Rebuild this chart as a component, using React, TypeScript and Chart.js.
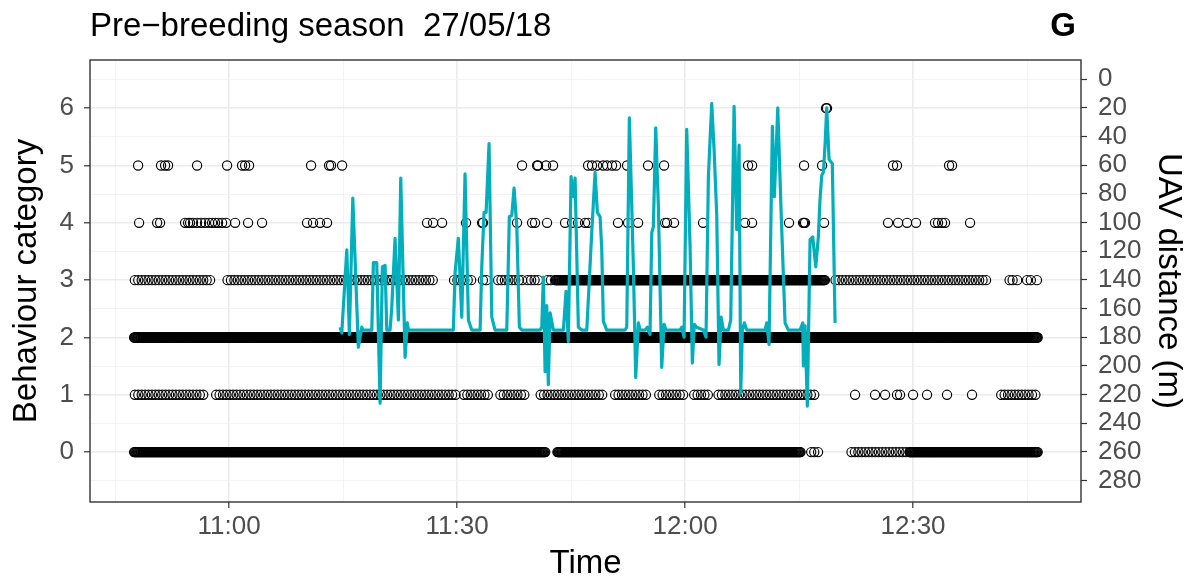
import React, { useEffect, useRef } from "react";
import { Chart, registerables } from "chart.js";

Chart.register(...registerables);

// ---------- text ----------
const TITLE = "Pre\u2212breeding season  27/05/18";
const PANEL_TAG = "G";
const X_TITLE = "Time";
const Y_TITLE = "Behaviour category";
const Y2_TITLE = "UAV distance (m)";

// ---------- axes (time in minutes after midnight) ----------
const X_MIN = 641.7;
const X_MAX = 772.1;
const X_TICKS = [645, 660, 675, 690, 705, 720, 735, 750, 765];
const X_LABELLED = [660, 690, 720, 750];
const Y_MIN = -0.87;
const Y_MAX = 6.84;
const Y_TICKS = [-0.5, 0, 0.5, 1, 1.5, 2, 2.5, 3, 3.5, 4, 4.5, 5, 5.5, 6, 6.5];
const Y2_MIN = -13.3;
const Y2_MAX = 294.9;
const Y2_TICKS = [0, 20, 40, 60, 80, 100, 120, 140, 160, 180, 200, 220, 240, 260, 280];

// ---------- UAV distance track ----------
const uavTime = [
  674.61, 674.83, 675.49, 675.83, 676.28, 677.01, 677.46, 677.63, 678.78, 678.99,
  679.43, 679.87, 680.17, 680.53, 680.75, 681.18, 681.41, 681.84, 682.28, 682.59,
  683.16, 683.46, 683.59, 689.51, 689.74, 690.17, 690.62, 691.05, 691.49, 691.93,
  693.03, 693.25, 693.55, 693.82, 694.21, 694.57, 695.0, 696.54, 696.88, 697.2,
  697.5, 697.86, 698.2, 698.51, 700.92, 701.14, 701.36, 701.58, 701.8, 702.01,
  702.24, 702.67, 703.99, 704.34, 704.64, 705.0, 705.3, 705.53, 705.96, 706.41,
  707.07, 707.72, 708.16, 708.46, 708.82, 709.04, 709.25, 709.7, 712.11, 712.33,
  712.67, 712.99, 713.2, 713.51, 713.86, 714.08, 714.74, 715.04, 715.39, 715.62,
  715.83, 716.14, 716.49, 716.93, 717.24, 717.5, 719.34, 719.57, 719.87, 720.22,
  720.66, 720.96, 721.22, 721.54, 722.41, 722.76, 723.07, 723.51, 723.82, 724.17,
  724.47, 724.74, 725.04, 725.7, 726.01, 726.45, 726.8, 727.11, 727.33, 727.54,
  727.8, 728.12, 730.53, 730.75, 731.05, 731.49, 731.75, 732.2, 732.63, 733.16,
  733.59, 735.13, 735.49, 735.57, 735.79, 736.09, 736.45, 736.8, 737.2, 737.54,
  737.76, 737.99, 738.2, 738.42, 738.64, 738.95, 739.38, 739.74,
];
const uavDistance = [
  173, 177, 119, 178, 83, 187, 173, 175, 175, 128,
  128, 226, 131, 130, 175, 175, 159, 111, 168, 69,
  194, 170, 175, 175, 135, 111, 166, 66, 168, 175,
  175, 131, 93, 93, 45, 166, 175, 175, 96, 95,
  76, 103, 173, 175, 175, 173, 138, 204, 158, 213,
  163, 175, 175, 148, 183, 68, 82, 69, 173, 175,
  175, 107, 65, 93, 96, 119, 169, 175, 175, 173,
  27, 89, 131, 208, 170, 175, 175, 173, 178, 107,
  103, 34, 89, 201, 171, 175, 175, 173, 180, 35,
  117, 198, 171, 173, 175, 180, 68, 17, 49, 95,
  199, 166, 175, 175, 168, 19, 105, 46, 219, 175,
  170, 175, 175, 170, 185, 33, 82, 20, 91, 170,
  175, 175, 170, 200, 172, 228, 112, 110, 131, 110,
  84, 67, 65, 46, 20, 56, 59, 170,
];

// ---------- behaviour observations ----------
// bouts of continuous scoring [start, end] (minutes after midnight)
const DENSE_INTERVAL = 0.1; // one record every 6 s inside a continuous bout
const LOOSE_INTERVAL = 0.45; // records in intermittent bouts
const cat0Dense = [[647.5, 701.6], [703.2, 735.2], [749.6, 766.4]];
const cat0Loose = [[741.9, 749.6]];
const cat0Single = [736.6, 737.0, 737.5];
const cat1Dense: number[][] = [];
const cat1Loose = [
  [647.6, 657.0], [658.3, 690.0], [690.9, 694.2], [695.7, 699.0], [701.0, 709.3],
  [710.8, 715.0], [716.6, 720.1], [721.2, 723.0], [724.4, 737.4], [761.6, 766.4],
];
const cat1Single = [742.37, 745.0, 746.32, 747.89, 748.29, 750.0, 751.84, 754.47, 757.76];
const cat2Dense = [[647.5, 766.4]];
const cat2Loose: number[][] = [];
const cat2Single: number[] = [];
const cat3Dense = [[702.9, 738.4]];
const cat3Loose = [
  [647.6, 657.9], [659.8, 686.9], [689.6, 692.0], [693.4, 694.2], [695.4, 698.6],
  [699.3, 701.0], [701.9, 702.4], [739.8, 759.6],
];
const cat3Single = [762.7, 763.1, 763.7, 765.0, 765.5, 766.3];
const cat4Single = [
  648.16, 650.53, 650.92, 654.21, 654.61, 654.87, 655.26, 655.79, 656.32, 656.84,
  657.37, 657.76, 658.16, 658.55, 659.08, 659.61, 660.79, 662.5, 664.34, 670.26,
  671.05, 671.97, 672.89, 686.05, 686.84, 688.03, 691.18, 693.29, 693.42, 697.89,
  699.87, 700.26, 701.84, 704.21, 705.13, 705.92, 706.84, 707.24, 711.18, 712.5,
  713.82, 717.37, 717.63, 718.55, 722.37, 727.89, 728.82, 733.68, 735.53, 735.66,
  735.79, 738.29, 746.71, 748.03, 749.21, 750.39, 752.89, 753.29, 753.82, 754.21,
  757.5,
];
const cat5Single = [
  648.03, 651.05, 651.58, 651.97, 655.79, 659.74, 661.71, 662.11, 662.63, 670.79,
  673.16, 673.42, 674.87, 698.55, 700.53, 700.66, 701.71, 702.63, 707.24, 707.76,
  708.42, 709.21, 709.74, 710.39, 710.92, 712.37, 715.13, 717.24, 728.29, 728.82,
  735.66, 738.03, 747.37, 747.89, 754.74, 755.13,
];
const cat6Single = [738.55, 738.68];

// ---------- colours ----------
const LINE_COLOR = "#00AFBB";
const POINT_COLOR = "#000000";
const GRID_MAJOR = "#EBEBEB";
const GRID_MINOR = "#F2F2F2";
const AXIS_DARK = "#333333";
const TICK_TEXT = "#4D4D4D";
const FONT = "'Liberation Sans', Arial, Helvetica, sans-serif";

function boutPoints(bouts: number[][], step: number, cat: number) {
  const out: { x: number; y: number }[] = [];
  for (const [a, b] of bouts) {
    for (let t = a; t <= b + 1e-9; t += step) out.push({ x: t, y: cat });
  }
  return out;
}
function singlePoints(times: number[], cat: number) {
  return times.map((t) => ({ x: t, y: cat }));
}

function buildBehaviour() {
  const rows = [
    { cat: 0, d: cat0Dense, l: cat0Loose, s: cat0Single },
    { cat: 1, d: cat1Dense, l: cat1Loose, s: cat1Single },
    { cat: 2, d: cat2Dense, l: cat2Loose, s: cat2Single },
    { cat: 3, d: cat3Dense, l: cat3Loose, s: cat3Single },
    { cat: 4, d: [], l: [], s: cat4Single },
    { cat: 5, d: [], l: [], s: cat5Single },
    { cat: 6, d: [], l: [], s: cat6Single },
  ];
  const pts: { x: number; y: number }[] = [];
  for (const r of rows) {
    pts.push(...boutPoints(r.d, DENSE_INTERVAL, r.cat));
    pts.push(...boutPoints(r.l, LOOSE_INTERVAL, r.cat));
    pts.push(...singlePoints(r.s, r.cat));
  }
  return pts;
}

function fmtTime(v: number) {
  const h = Math.floor(v / 60);
  const m = Math.round(v - h * 60);
  return `${h}:${m.toString().padStart(2, "0")}`;
}

const frameAndTitlePlugin = {
  id: "frameAndTitle",
  afterDraw(chart: any) {
    const { ctx, chartArea } = chart;
    ctx.save();
    ctx.strokeStyle = AXIS_DARK;
    ctx.lineWidth = 1.4;
    ctx.strokeRect(
      chartArea.left,
      chartArea.top,
      chartArea.right - chartArea.left,
      chartArea.bottom - chartArea.top
    );
    ctx.fillStyle = "#000000";
    ctx.textBaseline = "alphabetic";
    ctx.font = `33px ${FONT}`;
    ctx.textAlign = "left";
    ctx.fillText(TITLE, chartArea.left, 36);
    ctx.font = `bold 33px ${FONT}`;
    ctx.textAlign = "right";
    ctx.fillText(PANEL_TAG, 1076, 36);
    ctx.restore();
  },
};

export default function App() {
  const canvasRef = useRef<HTMLCanvasElement | null>(null);

  useEffect(() => {
    if (!canvasRef.current) return;
    const behaviour = buildBehaviour();
    const uav = uavTime.map((t, i) => ({ x: t, y: uavDistance[i] }));

    const isMajorX = (v: number) => X_LABELLED.includes(v);
    const isMajorY = (v: number) => Number.isInteger(v);

    const chart = new Chart(canvasRef.current, {
      type: "scatter",
      data: {
        datasets: [
          {
            type: "line",
            label: "UAV distance",
            data: uav,
            yAxisID: "y2",
            borderColor: LINE_COLOR,
            backgroundColor: LINE_COLOR,
            borderWidth: 3.2,
            borderJoinStyle: "round",
            pointRadius: 0,
            tension: 0,
            showLine: true,
            fill: false,
            order: 0,
          } as any,
          {
            type: "scatter",
            label: "Behaviour",
            data: behaviour,
            yAxisID: "y",
            pointRadius: 4.6,
            pointBorderWidth: 1.15,
            borderColor: POINT_COLOR,
            backgroundColor: "rgba(0,0,0,0)",
            pointHoverRadius: 4.6,
            order: 1,
          } as any,
        ],
      },
      options: {
        animation: false,
        responsive: true,
        maintainAspectRatio: false,
        devicePixelRatio: 1,
        events: [],
        layout: { padding: { top: 60, left: 0, right: 0, bottom: 0 } },
        plugins: {
          legend: { display: false },
          tooltip: { enabled: false },
          title: { display: false },
        },
        scales: {
          x: {
            type: "linear",
            position: "bottom",
            min: X_MIN,
            max: X_MAX,
            afterBuildTicks: (s: any) => {
              s.ticks = X_TICKS.map((v) => ({ value: v }));
            },
            afterFit: (s: any) => {
              s.height = 84;
            },
            border: { display: false },
            grid: {
              color: (c: any) => (c.tick && isMajorX(c.tick.value) ? GRID_MAJOR : GRID_MINOR),
              lineWidth: (c: any) => (c.tick && isMajorX(c.tick.value) ? 1.6 : 0.9),
              tickColor: (c: any) =>
                c.tick && isMajorX(c.tick.value) ? AXIS_DARK : "rgba(0,0,0,0)",
              tickWidth: 1.2,
              tickLength: 6,
              drawTicks: true,
            },
            ticks: {
              autoSkip: false,
              maxRotation: 0,
              padding: 3,
              color: TICK_TEXT,
              font: { family: FONT, size: 26 },
              callback: (v: any) => (isMajorX(Number(v)) ? fmtTime(Number(v)) : ""),
            },
            title: {
              display: true,
              text: X_TITLE,
              color: "#000000",
              font: { family: FONT, size: 33 },
              padding: { top: 0, bottom: 2 },
            },
          },
          y: {
            type: "linear",
            position: "left",
            min: Y_MIN,
            max: Y_MAX,
            afterBuildTicks: (s: any) => {
              s.ticks = Y_TICKS.map((v) => ({ value: v }));
            },
            afterFit: (s: any) => {
              s.width = 90;
            },
            border: { display: false },
            grid: {
              color: (c: any) => (c.tick && isMajorY(c.tick.value) ? GRID_MAJOR : GRID_MINOR),
              lineWidth: (c: any) => (c.tick && isMajorY(c.tick.value) ? 1.6 : 0.9),
              tickColor: (c: any) =>
                c.tick && isMajorY(c.tick.value) ? AXIS_DARK : "rgba(0,0,0,0)",
              tickWidth: 1.2,
              tickLength: 6,
              drawTicks: true,
            },
            ticks: {
              autoSkip: false,
              padding: 10,
              color: TICK_TEXT,
              font: { family: FONT, size: 26 },
              callback: (v: any) => (isMajorY(Number(v)) ? String(v) : ""),
            },
            title: {
              display: true,
              text: Y_TITLE,
              color: "#000000",
              font: { family: FONT, size: 33 },
              padding: { top: 7, bottom: 0 },
            },
          },
          y2: {
            type: "linear",
            position: "right",
            reverse: true,
            min: Y2_MIN,
            max: Y2_MAX,
            afterBuildTicks: (s: any) => {
              s.ticks = Y2_TICKS.map((v) => ({ value: v }));
            },
            afterFit: (s: any) => {
              s.width = 111;
            },
            border: { display: false },
            grid: {
              drawOnChartArea: false,
              tickColor: AXIS_DARK,
              tickWidth: 1.2,
              tickLength: 6,
              drawTicks: true,
            },
            ticks: {
              autoSkip: false,
              padding: 11,
              color: TICK_TEXT,
              font: { family: FONT, size: 26 },
              callback: (v: any) => String(v),
            },
            title: {
              display: true,
              text: Y2_TITLE,
              color: "#000000",
              font: { family: FONT, size: 33 },
              padding: { top: 4, bottom: 0 },
            },
          },
        },
      } as any,
      plugins: [frameAndTitlePlugin],
    });

    return () => chart.destroy();
  }, []);

  return (
    <div
      style={{
        position: "absolute",
        left: 0,
        top: 0,
        width: "1192px",
        height: "586px",
        background: "#ffffff",
      }}
    >
      <canvas ref={canvasRef} />
    </div>
  );
}
